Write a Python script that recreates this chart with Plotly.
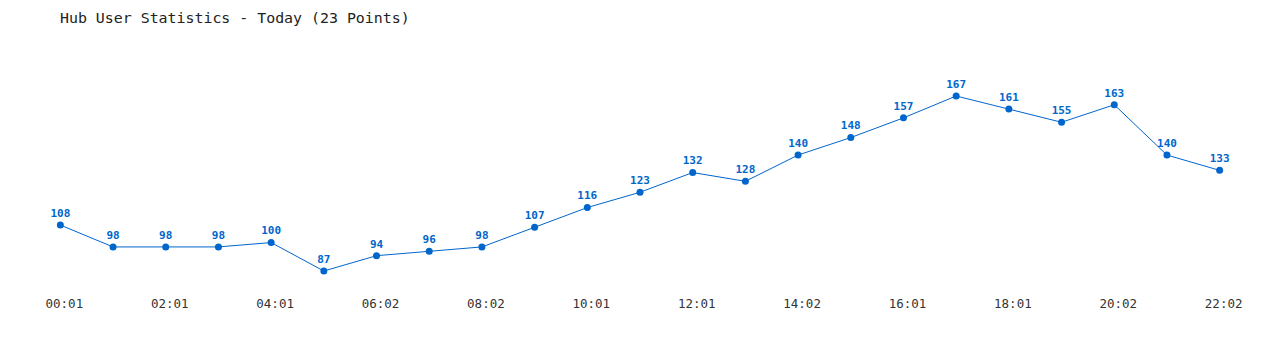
import plotly.graph_objects as go

title = "Hub User Statistics - Today (23 Points)"
users = [108, 98, 98, 98, 100, 87, 94, 96, 98, 107, 116, 123, 132, 128, 140, 148, 157, 167, 161, 155, 163, 140, 133]
tick_labels = ["00:01", "02:01", "04:01", "06:02", "08:02", "10:01", "12:01", "14:02", "16:01", "18:01", "20:02", "22:02"]

idx = list(range(len(users)))
tick_pos = idx[::2]

color = "#0066cc"
fig = go.Figure(go.Scatter(
    x=idx, y=users, mode="lines+markers+text",
    line=dict(color=color, width=1),
    marker=dict(color=color, size=7),
    text=[str(v) for v in users], textposition="top center",
    textfont=dict(family="DejaVu Sans Mono", size=11, color=color, weight="bold"),
    cliponaxis=False, hoverinfo="x+y",
))
fig.update_layout(
    width=1280, height=350,
    margin=dict(l=34, r=34, t=68, b=64),
    paper_bgcolor="white", plot_bgcolor="white",
    showlegend=False,
    title=dict(text=title, x=0, xref="paper", xanchor="left", y=0.95, yanchor="middle",
               pad=dict(l=26),
               font=dict(family="DejaVu Sans Mono", size=14.9, color="#222")),
    xaxis=dict(range=[-0.5, 22.5], tickvals=tick_pos, ticktext=tick_labels,
               showgrid=False, zeroline=False, showline=False,
               ticks="outside", ticklen=6, tickcolor="rgba(0,0,0,0)",
               ticklabelshift=4,
               tickfont=dict(family="DejaVu Sans Mono", size=12.5, color="#333")),
    yaxis=dict(range=[80.14, 179.8], visible=False, showgrid=False, zeroline=False),
)
fig.write_html("out.html")
